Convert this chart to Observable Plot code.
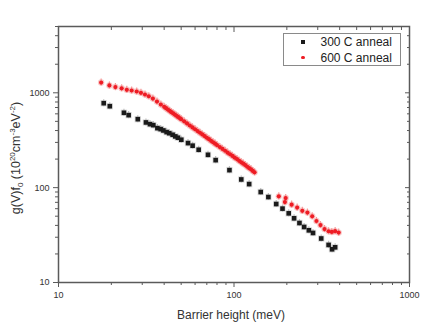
<!DOCTYPE html>
<html><head><meta charset="utf-8">
<script src="https://cdn.jsdelivr.net/npm/d3@7"></script>
<script src="https://cdn.jsdelivr.net/npm/@observablehq/plot@0.6"></script>
<style>
body{margin:0;background:#fff;}
#wrap{position:relative;width:431px;height:324px;font-family:"Liberation Sans",Arial,sans-serif;}
#legend{position:absolute;left:283px;top:33px;width:116px;height:31px;border:1px solid #8a8a8a;background:#fff;}
#legend .t{position:absolute;left:36.5px;font-size:12px;line-height:14px;color:#222;white-space:nowrap;}
#legend .sq{position:absolute;left:17px;top:6.3px;width:4px;height:4px;background:#1a1a1a;}
#legend .dt{position:absolute;left:17.2px;top:21.9px;width:3.6px;height:3.6px;border-radius:50%;background:#ee1c24;}
</style></head><body><div id="wrap"></div>
<script>
// 300 C anneal (black squares)
const x300 = [18.1, 19.6, 23.6, 25.1, 28.3, 31.5, 33.2, 34.7, 36.6, 38.2, 39.6, 41.3, 42.8, 44.7, 46.3, 47.9, 50.1, 54.7, 58.1, 62.9, 71.1, 78.6, 94.2, 110, 122, 142, 157, 174, 189, 205, 220, 236, 251, 267, 282, 314, 346, 362, 377];
const y300 = [777, 722, 616, 581, 527, 487, 467, 456, 424, 414, 401, 385, 375, 361, 347, 336, 320, 295, 277, 251, 222, 195, 153, 122, 109, 89.9, 79.6, 67.2, 60.1, 53.6, 47.5, 42.4, 38.5, 35.5, 33.3, 29.1, 24.9, 22.4, 23.5];
// 600 C anneal (red circles)
const x600 = [17.5, 19.5, 21.1, 22.9, 24.5, 26.1, 27.9, 29.5, 31.1, 32.7, 34.5, 36.4, 38.3,
  40, 41, 42, 43, 44, 45, 46, 47, 48, 49, 50, 52, 54, 56, 58, 60, 62, 64, 66, 68, 70, 72, 74, 76, 78, 80,
  83, 86, 89, 92, 95, 98, 101, 104, 107, 110, 113, 116, 119, 122, 125, 128, 131,
  180, 195, 197, 213, 229, 245, 262, 279, 295, 311, 328, 346, 361, 377, 395];
const y600 = [1283, 1195, 1150, 1115, 1076, 1057, 1032, 1000, 960, 920, 870, 809, 753,
  712, 688, 665, 645, 625, 607, 590, 573, 557, 542, 527, 500, 475, 452, 431, 413, 395, 379, 364, 350, 336, 324, 312, 301, 291, 281,
  268, 256, 245, 234, 225, 216, 207, 200, 192, 185, 179, 173, 166, 161, 156, 150, 145,
  81, 70.5, 77.7, 66.2, 61.6, 57, 54.6, 49.9, 44.5, 40.3, 36.6, 34.7, 34.1, 34.8, 33.6];
// relative error (error bars)
const relErr = 0.09;
// axis ticks
const xMajor = [10, 100, 1000];
const xMinor = [20, 30, 40, 50, 60, 70, 80, 90, 200, 300, 400, 500, 600, 700, 800, 900];
const yMajor = [10, 100, 1000];
const yMinor = [20, 30, 40, 50, 60, 70, 80, 90, 200, 300, 400, 500, 600, 700, 800, 900, 2000, 3000, 4000, 5000];
const legendLabels = ["300 C anneal", "600 C anneal"];
const xTitle = "Barrier height (meV)";

const d300 = x300.map((x, i) => ({x, y: y300[i], lo: y300[i] / (1 + relErr), hi: y300[i] * (1 + relErr)}));
const d600 = x600.map((x, i) => ({x, y: y600[i], lo: y600[i] / (1 + relErr), hi: y600[i] * (1 + relErr)}));

const axC = "#5a5a5a";
const lab = {fill: "#333", stroke: axC, label: null, fontSize: 9};
const none = () => "";

const chart = Plot.plot({
  width: 431, height: 324,
  marginLeft: 58, marginRight: 22, marginTop: 26, marginBottom: 42,
  x: {type: "log", domain: [10, 1000]},
  y: {type: "log", domain: [10, 5000]},
  style: {fontFamily: "'Liberation Sans', Arial, sans-serif", fontSize: "9px", background: "#fff", color: "#333"},
  marks: [
    Plot.dot(d300, {x: "x", y: "y", symbol: "square", r: 3.6, fill: "#d0d0d0", fillOpacity: 0.7}),
    Plot.dot(d600, {x: "x", y: "y", r: 3.2, fill: "#f7b0b0", fillOpacity: 0.7}),
    Plot.ruleX(d300, {x: "x", y1: "lo", y2: "hi", stroke: "#bdbdbd", strokeWidth: 1.2}),
    Plot.ruleX(d600, {x: "x", y1: "lo", y2: "hi", stroke: "#f59a9a", strokeWidth: 1.2}),
    Plot.dot(d300, {x: "x", y: "y", symbol: "square", r: 2.6, fill: "#1a1a1a"}),
    Plot.dot(d600, {x: "x", y: "y", r: 2.1, fill: "#ee1c24"}),
    Plot.axisX(xMajor, {...lab, anchor: "bottom", tickSize: 5, tickPadding: 4, tickFormat: d => String(d)}),
    Plot.axisX(xMinor, {...lab, anchor: "bottom", tickSize: 3, tickFormat: none}),
    Plot.axisX(xMajor, {...lab, anchor: "top", tickSize: -5, tickFormat: none}),
    Plot.axisX(xMinor, {...lab, anchor: "top", tickSize: -3, tickFormat: none}),
    Plot.axisY(yMajor, {...lab, anchor: "left", tickSize: 5, tickPadding: 4, tickFormat: d => String(d)}),
    Plot.axisY(yMinor, {...lab, anchor: "left", tickSize: 3, tickFormat: none}),
    Plot.axisY(yMajor, {...lab, anchor: "right", tickSize: -5, tickFormat: none}),
    Plot.axisY(yMinor, {...lab, anchor: "right", tickSize: -3, tickFormat: none}),
    Plot.frame({stroke: axC, strokeWidth: 1.5})
  ]
});
const wrap = document.getElementById("wrap");
wrap.appendChild(chart);

const svg = d3.select(chart);
// x title
svg.append("text").attr("x", 231).attr("y", 319).attr("text-anchor", "middle")
  .attr("font-size", 12).attr("fill", "#333").text(xTitle);
// y title with sub/superscripts
const yt = svg.append("text").attr("transform", "translate(20,158) rotate(-90)")
  .attr("text-anchor", "middle").attr("font-size", 12.5).attr("fill", "#333");
yt.append("tspan").text("g(V)f");
yt.append("tspan").attr("font-size", 8).attr("dy", 3).text("0");
yt.append("tspan").attr("dy", -3).text(" (10");
yt.append("tspan").attr("font-size", 8).attr("dy", -5).text("20");
yt.append("tspan").attr("dy", 5).text("cm");
yt.append("tspan").attr("font-size", 8).attr("dy", -5).text("-3");
yt.append("tspan").attr("dy", 5).text("eV");
yt.append("tspan").attr("font-size", 8).attr("dy", -5).text("-2");
yt.append("tspan").attr("dy", 5).text(")");

// legend
const lg = document.createElement("div");
lg.id = "legend";
lg.innerHTML = `<div class="sq"></div><div class="t" style="top:1.3px">${legendLabels[0]}</div>` +
  `<div class="dt"></div><div class="t" style="top:16.7px">${legendLabels[1]}</div>`;
wrap.appendChild(lg);
</script>
</body></html>
